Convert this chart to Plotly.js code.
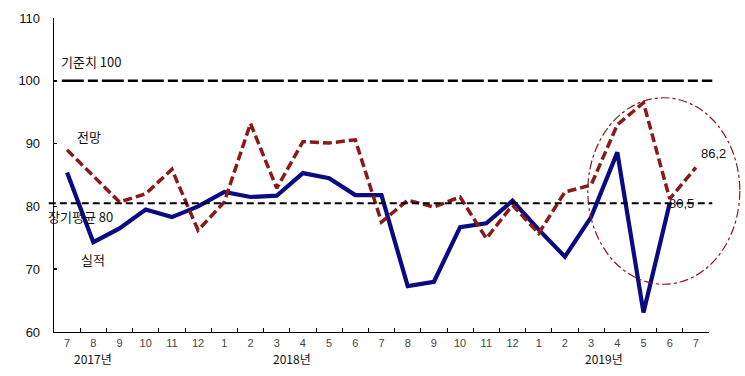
<!DOCTYPE html>
<html>
<head>
<meta charset="utf-8">
<script src="https://cdn.plot.ly/plotly-3.0.1.min.js"></script>
<style>html,body{margin:0;padding:0;background:#fff;}#chart{width:745px;height:376px;}</style>
</head>
<body>
<div id="chart"></div>
<script>
// Categories (year.month) and tick labels
const periods = ["2017.7","2017.8","2017.9","2017.10","2017.11","2017.12",
  "2018.1","2018.2","2018.3","2018.4","2018.5","2018.6","2018.7","2018.8","2018.9","2018.10","2018.11","2018.12",
  "2019.1","2019.2","2019.3","2019.4","2019.5","2019.6","2019.7"];
const monthLabels = ["7","8","9","10","11","12","1","2","3","4","5","6","7","8","9","10","11","12","1","2","3","4","5","6","7"];

// 실적 (actual) – ends June 2019
const actual = [85.4, 74.3, 76.5, 79.5, 78.3, 80.0, 82.3, 81.5, 81.7, 85.3, 84.5, 81.8, 81.8, 67.3,
  68.0, 76.7, 77.3, 80.9, 76.3, 72.0, 78.3, 88.6, 63.1, 80.5];
// 전망 (forecast) – through July 2019
const forecast = [89.0, 84.9, 80.7, 82.0, 85.9, 76.2, 80.7, 93.2, 82.9, 90.3, 90.1, 90.6, 77.5, 81.0,
  79.9, 81.5, 74.9, 80.2, 75.7, 82.3, 83.4, 93.0, 96.5, 81.2, 86.2];

// Reference levels
const refLevels = [100, 80.5];
const refLabels = ["기준치 100", "장기평균 80"];
const seriesLabels = ["실적", "전망"];
const yearLabels = ["2017년", "2018년", "2019년"];
const yearPos = [1, 8.6, 20.5];

const navy = "#0a0a82";
const maroon = "#8a1a1a";
const fontFam = "'Liberation Sans', Arial, 'Noto Sans CJK KR', sans-serif";
const korFam = "'Noto Sans CJK KR', 'Liberation Sans', sans-serif";

const traces = [
  {x: periods.slice(0, actual.length), y: actual, type: "scatter", mode: "lines", name: seriesLabels[0],
   line: {color: navy, width: 4.2}, hoverinfo: "x+y"},
  {x: periods, y: forecast, type: "scatter", mode: "lines", name: seriesLabels[1],
   line: {color: maroon, width: 3.5, dash: "9px,4px"}, hoverinfo: "x+y"}
];

const shapes = [
  {type: "line", xref: "paper", yref: "y", x0: 0.012, x1: 1.005, y0: refLevels[0], y1: refLevels[0],
   line: {color: "#000", width: 2.5, dash: "22px,4px,10px,4px"}},
  {type: "line", xref: "paper", yref: "y", x0: -0.008, x1: 1.005, y0: refLevels[1], y1: refLevels[1],
   line: {color: "#000", width: 2, dash: "7px,4px"}},
  {type: "circle", xref: "paper", yref: "paper", x0: 0.815, x1: 1.047, y0: 0.152, y1: 0.746,
   line: {color: maroon, width: 1.2, dash: "dashdot"}}
];

const annotations = [
  {xref: "paper", yref: "y", x: 0.008, y: 101.2, xanchor: "left", yanchor: "bottom", showarrow: false,
   text: refLabels[0], font: {family: korFam, size: 13, color: "#111"}},
  {xref: "paper", yref: "y", x: -0.012, y: 80.3, xanchor: "left", yanchor: "top", showarrow: false,
   text: refLabels[1], font: {family: korFam, size: 13, color: "#111"}},
  {xref: "x", yref: "y", x: 0.3, y: 89.3, xanchor: "left", yanchor: "bottom", showarrow: false,
   text: seriesLabels[1], font: {family: korFam, size: 13, color: "#111"}},
  {xref: "x", yref: "y", x: 0.45, y: 73.4, xanchor: "left", yanchor: "top", showarrow: false,
   text: seriesLabels[0], font: {family: korFam, size: 13, color: "#111"}},
  {xref: "x", yref: "y", x: 24.1, y: 88.5, xanchor: "left", yanchor: "middle", showarrow: false,
   text: forecast[24].toFixed(1).replace(".", ","), font: {family: fontFam, size: 13, color: "#111"}},
  {xref: "x", yref: "y", x: 22.9, y: 80.5, xanchor: "left", yanchor: "middle", showarrow: false,
   text: actual[23].toFixed(1).replace(".", ","), font: {family: fontFam, size: 13, color: "#111"}}
];
yearLabels.forEach((t, i) => annotations.push({
  xref: "x", yref: "paper", x: yearPos[i], y: -0.052, xanchor: "center", yanchor: "top", showarrow: false,
  text: t, font: {family: korFam, size: 12, color: "#111"}
}));

const layout = {
  width: 745, height: 376,
  margin: {l: 54, r: 36, t: 18, b: 44, pad: 0},
  paper_bgcolor: "#fff", plot_bgcolor: "#fff",
  showlegend: false,
  font: {family: fontFam, color: "#111"},
  xaxis: {
    type: "category", categoryorder: "array", categoryarray: periods,
    range: [-0.5, 24.5],
    tickmode: "array", tickvals: periods, ticktext: monthLabels,
    tickson: "boundaries",
    ticks: "inside", ticklen: 4, tickwidth: 1, tickcolor: "#000",
    showline: true, linecolor: "#000", linewidth: 1.3,
    showgrid: false, zeroline: false,
    tickfont: {family: fontFam, size: 11, color: "#444"}
  },
  yaxis: {
    range: [60, 110], tickmode: "array", tickvals: [60, 70, 80, 90, 100, 110],
    ticks: "inside", ticklen: 3, tickwidth: 1.5, tickcolor: "#000",
    showline: true, linecolor: "#000", linewidth: 1.3,
    showgrid: false, zeroline: false, ticklabelstandoff: 10,
    tickfont: {family: fontFam, size: 13, color: "#111"}
  },
  shapes: shapes,
  annotations: annotations
};

Plotly.newPlot("chart", traces, layout, {displayModeBar: false, staticPlot: true});
</script>
</body>
</html>
